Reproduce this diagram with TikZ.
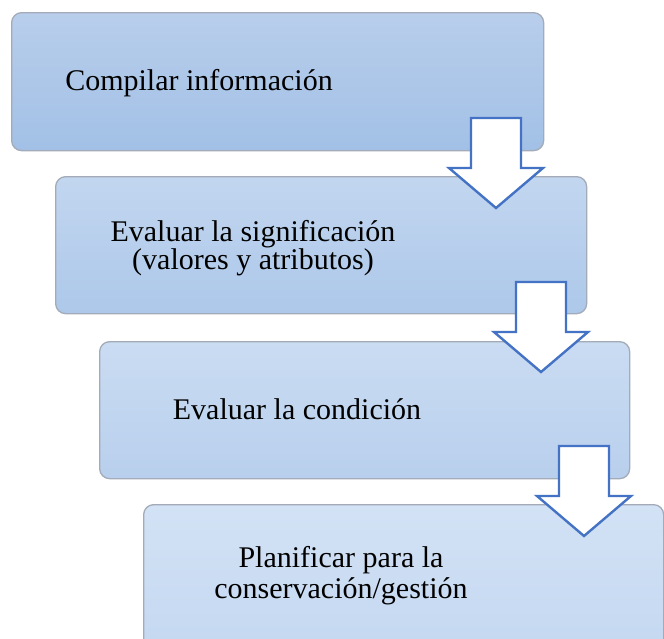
\documentclass[tikz,border=0pt]{standalone}
\usepackage{fontspec}
\setmainfont{Liberation Serif}
\usetikzlibrary{calc}
\begin{document}
\begin{tikzpicture}[x=1pt,y=-1pt,
  stagebox/.style={draw=boxline, line width=1.3pt, rounded corners=10pt,
    shading=axis, inner sep=0pt, anchor=north west},
  stagetext/.style={font=\fontsize{30}{28}\selectfont, text=black, align=center, inner sep=0pt, anchor=base},
  blockarrow/.style={draw=arrowblue, fill=white, line width=2.4pt, line join=miter}]
\definecolor{boxline}{HTML}{A3ABB8}
\definecolor{arrowblue}{HTML}{4472C4}
\definecolor{aTop}{HTML}{B8CEEB}\definecolor{aBot}{HTML}{A2C0E6}
\definecolor{bTop}{HTML}{C2D6EF}\definecolor{bBot}{HTML}{ADC8EA}
\definecolor{cTop}{HTML}{CADCF2}\definecolor{cBot}{HTML}{B8CFED}
\definecolor{dTop}{HTML}{D3E2F5}\definecolor{dBot}{HTML}{C4D8F1}
\useasboundingbox (0,0) rectangle (664,638);
\fill[white] (0,0) rectangle (664,638);
\clip (0,0) rectangle (664,638);
% boxes
\node[stagebox, top color=aTop, bottom color=aBot, minimum width=532pt, minimum height=138pt] (b1) at (11,12) {};
\node[stagebox, top color=bTop, bottom color=bBot, minimum width=531pt, minimum height=137pt] (b2) at (55,176) {};
\node[stagebox, top color=cTop, bottom color=cBot, minimum width=530pt, minimum height=137pt] (b3) at (99,341) {};
\node[stagebox, top color=dTop, bottom color=dBot, minimum width=520pt, minimum height=145pt] (b4) at (143,504) {};
% texts
\node[stagetext] (t1) at (199,90) {Compilar información};
\node[stagetext, font=\fontsize{30}{27.6}\selectfont] (t2) at (253,269.3) {Evaluar la significación\\(valores y atributos)};
\node[stagetext] (t3) at (297,419) {Evaluar la condición};
\node[stagetext, font=\fontsize{30}{31}\selectfont] (t4) at (341,598) {Planificar para la\\conservación/gestión};
% arrows
\coordinate (a1) at (496,118);
\coordinate (a2) at (541,282);
\coordinate (a3) at (584,446);
\foreach \a in {a1,a2,a3}{
  \draw[blockarrow] ($(\a)+(-25,0)$) -- ($(\a)+(25,0)$) -- ($(\a)+(25,50)$) -- ($(\a)+(47,50)$)
    -- ($(\a)+(0,90)$) -- ($(\a)+(-47,50)$) -- ($(\a)+(-25,50)$) -- cycle;
}
\end{tikzpicture}
\end{document}
